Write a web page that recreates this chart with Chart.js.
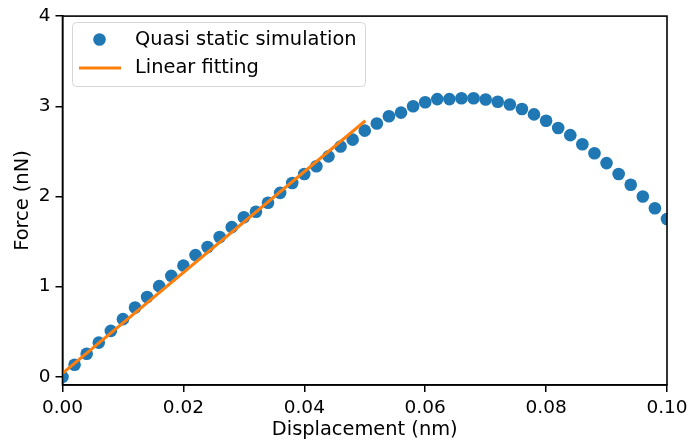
<!DOCTYPE html>
<html>
<head>
<meta charset="utf-8">
<script src="https://cdn.jsdelivr.net/npm/chart.js@4/dist/chart.umd.min.js"></script>
<style>
html,body{margin:0;padding:0;background:#fff;}
#wrap{width:690px;height:443px;}
</style>
</head>
<body>
<div id="wrap"><canvas id="c" width="690" height="443"></canvas></div>
<script>
const displacement = [0.000,0.002,0.004,0.006,0.008,0.010,0.012,0.014,0.016,0.018,
  0.020,0.022,0.024,0.026,0.028,0.030,0.032,0.034,0.036,0.038,
  0.040,0.042,0.044,0.046,0.048,0.050,0.052,0.054,0.056,0.058,
  0.060,0.062,0.064,0.066,0.068,0.070,0.072,0.074,0.076,0.078,
  0.080,0.082,0.084,0.086,0.088,0.090,0.092,0.094,0.096,0.098,0.100];
const force = [0.00,0.135,0.257,0.38,0.51,0.64,0.77,0.885,1.006,1.12,
  1.234,1.35,1.44,1.55,1.66,1.77,1.83,1.93,2.04,2.15,
  2.25,2.335,2.445,2.555,2.63,2.73,2.81,2.89,2.93,3.00,
  3.045,3.08,3.08,3.09,3.09,3.075,3.05,3.02,2.97,2.91,
  2.84,2.76,2.68,2.58,2.48,2.37,2.25,2.13,2.00,1.87,1.75];
const fitX = [0.0, 0.0501];
const fitY = [0.04, 2.84];
const xTicks = [0, 0.02, 0.04, 0.06, 0.08, 0.10];
const yTicks = [0, 1, 2, 3, 4];
const seriesNames = ['Quasi static simulation', 'Linear fitting'];

const FONT = 'DejaVu Sans';
const blue = '#1f77b4', orange = '#ff7f0e';

const frame = {
  id: 'frame',
  afterDatasetsDraw(chart) {
    const {ctx, chartArea: a} = chart;
    ctx.save();
    ctx.strokeStyle = '#000';
    ctx.lineWidth = 1.6;
    ctx.strokeRect(a.left, a.top, a.right - a.left, a.bottom - a.top);
    ctx.restore();
  },
  afterDraw(chart) {
    const ctx = chart.ctx;
    ctx.save();
    const bx = 72.5, by = 22.5, bw = 293, bh = 64, r = 4;
    ctx.beginPath();
    ctx.moveTo(bx + r, by);
    ctx.arcTo(bx + bw, by, bx + bw, by + bh, r);
    ctx.arcTo(bx + bw, by + bh, bx, by + bh, r);
    ctx.arcTo(bx, by + bh, bx, by, r);
    ctx.arcTo(bx, by, bx + bw, by, r);
    ctx.closePath();
    ctx.fillStyle = 'rgba(255,255,255,0.8)';
    ctx.fill();
    ctx.strokeStyle = '#d6d6d6';
    ctx.lineWidth = 1;
    ctx.stroke();
    ctx.fillStyle = blue;
    ctx.beginPath();
    ctx.arc(99.5, 39.5, 6.3, 0, Math.PI * 2);
    ctx.fill();
    ctx.strokeStyle = orange;
    ctx.lineWidth = 3;
    ctx.beginPath();
    ctx.moveTo(79, 68);
    ctx.lineTo(121, 68);
    ctx.stroke();
    ctx.fillStyle = '#000';
    ctx.font = '19.4px "' + FONT + '"';
    ctx.textBaseline = 'middle';
    ctx.textAlign = 'left';
    ctx.fillText(seriesNames[0], 135, 40);
    ctx.fillText(seriesNames[1], 135, 68);
    ctx.restore();
  }
};

new Chart(document.getElementById('c'), {
  type: 'scatter',
  data: {
    datasets: [
      {
        label: seriesNames[0],
        data: displacement.map((x, i) => ({x: x, y: force[i]})),
        backgroundColor: blue,
        borderColor: blue,
        pointRadius: 6.3,
        pointBorderWidth: 0,
        showLine: false,
        clip: 0,
        order: 2
      },
      {
        label: seriesNames[1],
        data: fitX.map((x, i) => ({x: x, y: fitY[i]})),
        borderColor: orange,
        backgroundColor: orange,
        borderWidth: 3,
        pointRadius: 0,
        showLine: true,
        clip: 0,
        order: 1
      }
    ]
  },
  options: {
    responsive: false,
    animation: false,
    events: [],
    layout: {padding: {left: 0, top: 14, right: 23, bottom: 0}},
    plugins: {legend: {display: false}, tooltip: {enabled: false}},
    scales: {
      x: {
        type: 'linear',
        min: 0, max: 0.1,
        afterFit(s) { s.height = 58; s.paddingRight = 20; s.paddingLeft = 20; },
        afterBuildTicks(s) { s.ticks = xTicks.map(v => ({value: v})); },
        grid: {drawOnChartArea: false, drawTicks: true, tickLength: 7, color: '#000', lineWidth: 1.5},
        border: {display: true, color: '#000', width: 1.5},
        ticks: {
          color: '#000', padding: 5, maxRotation: 0,
          font: {family: FONT, size: 18.5},
          callback: v => Number(v).toFixed(2)
        },
        title: {display: true, text: 'Displacement (nm)', color: '#000',
          font: {family: FONT, size: 19.4}, padding: {top: 0, bottom: 1}}
      },
      y: {
        type: 'linear',
        min: -0.09, max: 4,
        afterFit(s) { s.width = 62.5; },
        afterBuildTicks(s) { s.ticks = yTicks.map(v => ({value: v})); },
        grid: {drawOnChartArea: false, drawTicks: true, tickLength: 7, color: '#000', lineWidth: 1.5},
        border: {display: true, color: '#000', width: 1.5},
        ticks: {
          color: '#000', padding: 5,
          font: {family: FONT, size: 18.5},
          callback: v => String(v)
        },
        title: {display: true, text: 'Force (nN)', color: '#000',
          font: {family: FONT, size: 19.4}, padding: {top: 11, bottom: 0}}
      }
    }
  },
  plugins: [frame]
});
</script>
</body>
</html>
